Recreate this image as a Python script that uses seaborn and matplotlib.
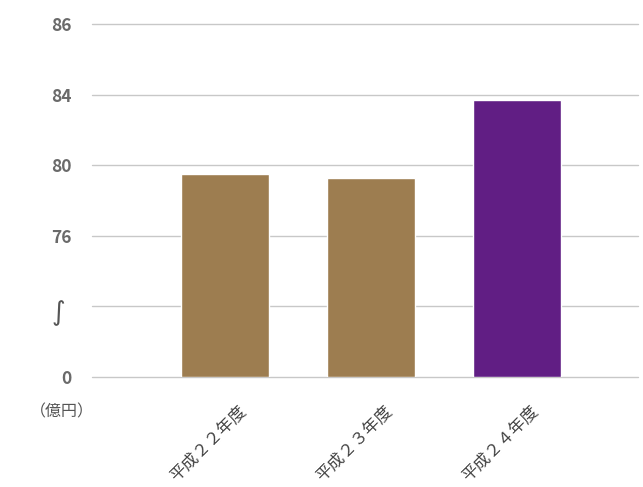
import numpy as np
import matplotlib
matplotlib.use('Agg')
import matplotlib.pyplot as plt
import matplotlib.transforms as mtransforms
import seaborn as sns
import pandas as pd

categories = ['平成２２年度', '平成２３年度', '平成２４年度']
values = [79.5, 79.3, 83.7]
bar_colors = ['#9D7D50', '#9D7D50', '#611E84']
tick_values = [0, 72, 76, 80, 84, 86]
tick_labels = ['0', '∫', '76', '80', '84', '86']
unit_label = '（億円）'

sns.set_theme(style='white')
plt.rcParams['font.family'] = ['Noto Sans CJK JP', 'DejaVu Sans']

positions = np.arange(len(tick_values), dtype=float)


def forward(v):
    return np.interp(v, tick_values, positions)


def inverse(p):
    return np.interp(p, positions, tick_values)


fig = plt.figure(figsize=(6.43, 4.87), dpi=100)
ax = fig.add_axes([92 / 643, 110 / 487, 546 / 643, 353 / 487])

df = pd.DataFrame({'cat': categories, 'val': values})
sns.barplot(data=df, x='cat', y='val', hue='cat', palette=bar_colors,
            legend=False, width=0.6, saturation=1, ax=ax)

ax.set_yscale('function', functions=(forward, inverse))
ax.set_ylim(0, 86)
ax.set_xlim(-0.911, 2.829)
ax.set_yticks(tick_values)
ax.set_yticklabels(tick_labels)
ax.yaxis.grid(True, color='#c8c8c8', linewidth=1)
ax.set_axisbelow(True)
for gl in ax.get_ygridlines():
    gl.set_clip_on(False)
for s in ax.spines.values():
    s.set_visible(False)
ax.set_xlabel('')
ax.set_ylabel('')

ax.tick_params(axis='y', length=0, pad=15, labelsize=12.5, labelcolor='#6a6a6a')
for lab in ax.get_yticklabels():
    lab.set_fontweight('bold')
sq = ax.get_yticklabels()[1]
sq.set_fontweight('normal')
sq.set_fontfamily(['DejaVu Sans'])
sq.set_fontsize(19)
sq.set_color('#555555')
sq.set_transform(sq.get_transform() + mtransforms.ScaledTranslation(-6 / 100, -4 / 100, fig.dpi_scale_trans))

ax.tick_params(axis='x', length=0, pad=18, labelsize=12, labelcolor='#444444')
offset = mtransforms.ScaledTranslation(12 / 100, 0, fig.dpi_scale_trans)
for lab in ax.get_xticklabels():
    lab.set_rotation(45)
    lab.set_ha('right')
    lab.set_va('top')
    lab.set_rotation_mode('anchor')
    lab.set_transform(lab.get_transform() + offset)

fig.text(62 / 643, 1 - 412 / 487, unit_label, ha='center', va='center',
         fontsize=11.5, color='#555555')

fig.savefig('out.png', dpi=100)
